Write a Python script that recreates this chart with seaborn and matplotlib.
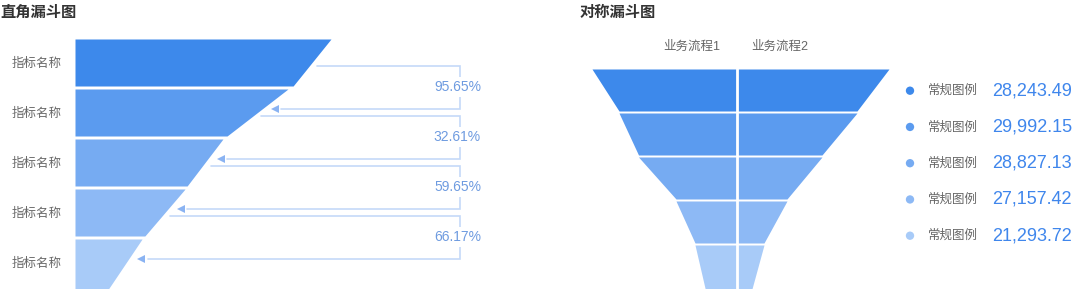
import numpy as np
import matplotlib
matplotlib.use("Agg")
import matplotlib.pyplot as plt
import seaborn as sns

# ---------------- data ----------------
stage_labels = ["指标名称", "指标名称", "指标名称", "指标名称", "指标名称"]
# right-angle funnel: width at top and bottom of each stage (relative units)
stage_top = [100.0, 83.2, 57.8, 43.0, 26.2]
stage_bottom = [85.2, 59.4, 43.8, 27.3, 12.0]
conv_labels = ["95.65%", "32.61%", "59.65%", "66.17%"]

# symmetric funnel: half-widths at stage boundaries
flow_names = ["业务流程1", "业务流程2"]
flow1_edges = [145, 118, 98.5, 61, 42, 31]
flow2_edges = [152, 120, 85, 50, 27, 14]

legend_labels = ["常规图例", "常规图例", "常规图例", "常规图例", "常规图例"]
legend_values = [28243.49, 29992.15, 28827.13, 27157.42, 21293.72]

colors = ["#3D89EB", "#5B9BEF", "#76ABF2", "#8DB9F5", "#A8CBF8"]

# ---------------- style ----------------
sns.set_theme(style="white")
plt.rcParams["font.family"] = ["Noto Sans CJK SC", "DejaVu Sans"]
NUM_FONT = ["Liberation Sans", "Noto Sans CJK SC", "DejaVu Sans"]

W, H = 1080, 289
fig = plt.figure(figsize=(W / 100, H / 100), dpi=100)
fig.patch.set_facecolor("white")

TITLE_C = "#333333"
LABEL_C = "#666666"
LINE_C = "#C5D9F8"
ARROW_C = "#8AB3F2"
PCT_C = "#6E9BE0"
VAL_C = "#3F86EC"

fig.text(0 / W, 1 - 12 / H, "直角漏斗图", fontsize=11, fontweight="bold",
         color=TITLE_C, ha="left", va="center")
fig.text(580 / W, 1 - 12 / H, "对称漏斗图", fontsize=11, fontweight="bold",
         color=TITLE_C, ha="left", va="center")

# ---------------- left: right-angle funnel ----------------
ax1 = fig.add_axes([0, 0, 540 / W, 1])
ux = 2.56   # px per unit
uy = 50.0   # px per row
ax1.set_xlim(-75 / ux, (540 - 75) / ux)
ax1.set_ylim((H - 63) / uy, -63 / uy)
ax1.axis("off")

top_off, bot_off = -0.48, 0.46


def edge_x(i, y):
    b = bot_off if i < len(stage_top) - 1 else 0.6
    f = (y - (i + top_off)) / (b - top_off)
    return stage_top[i] + f * (stage_bottom[i] - stage_top[i])


for i in range(len(stage_top)):
    b = bot_off if i < len(stage_top) - 1 else 0.6
    ys = np.array([i + top_off, i + b])
    xs = np.array([stage_top[i], stage_bottom[i]])
    ax1.fill_betweenx(ys, 0, xs, color=colors[i], linewidth=0)
    ax1.text(-14.8, i, stage_labels[i], fontsize=9, color=LABEL_C,
             ha="center", va="center")

vx = (460 - 75) / ux
for i, lab in enumerate(conv_labels):
    y0 = i + 0.06
    y1 = i + 0.92
    x0 = edge_x(i, y0) + 3.2
    x1 = edge_x(i + 1, y1) + 5.0
    ax1.plot([x0, vx, vx, x1 + 2.5], [y0, y0, y1, y1], color=LINE_C, lw=1.2,
             solid_joinstyle="miter")
    ax1.plot([x1], [y1], marker="<", markersize=6, color=ARROW_C,
             markeredgewidth=0)
    ax1.text((481 - 75) / ux, i + 0.48, lab, fontsize=10, color=PCT_C,
             family=NUM_FONT, ha="right", va="center",
             bbox=dict(boxstyle="square,pad=0.2", fc="white", ec="none"))

# ---------------- right: symmetric funnel ----------------
ax2 = fig.add_axes([540 / W, 0, 540 / W, 1])
cx = 737
py = 44.0
ax2.set_xlim(540 - cx, 1080 - cx)
ax2.set_ylim((H - 90) / py, -90 / py)
ax2.axis("off")

half = 21 / py
for i in range(5):
    b = half if i < 4 else 0.6
    ys = np.array([i - half, i + b])
    l = np.array([flow1_edges[i], flow1_edges[i + 1]])
    r = np.array([flow2_edges[i], flow2_edges[i + 1]])
    ax2.fill_betweenx(ys, -l, 0, color=colors[i], linewidth=0)
    ax2.fill_betweenx(ys, 0, r, color=colors[i], linewidth=0)
ax2.axvline(0, ymin=0, ymax=1, color="white", lw=2)

ax2.text(-45, -43 / py, flow_names[0], fontsize=9, color=LABEL_C,
         family=NUM_FONT, ha="center", va="center")
ax2.text(43, -43 / py, flow_names[1], fontsize=9, color=LABEL_C,
         family=NUM_FONT, ha="center", va="center")

# ---------------- legend ----------------
ax3 = fig.add_axes([890 / W, 0, 190 / W, 1])
pitch = 36.25
idx = np.arange(len(legend_values))
sns.scatterplot(x=np.full(len(idx), 20.0), y=idx, hue=idx,
                palette=colors, s=36, linewidth=0, legend=False, ax=ax3)
ax3.set_xlim(0, 190)
ax3.set_ylim((H - 90.7) / pitch, -90.7 / pitch)
ax3.axis("off")
for i, (lab, v) in enumerate(zip(legend_labels, legend_values)):
    ax3.text(38, i, lab, fontsize=9, color=LABEL_C, ha="left", va="center")
    ax3.text(182, i, f"{v:,.2f}", fontsize=13, color=VAL_C,
             family=NUM_FONT, ha="right", va="center")

fig.savefig("out.png", dpi=100, facecolor="white")
